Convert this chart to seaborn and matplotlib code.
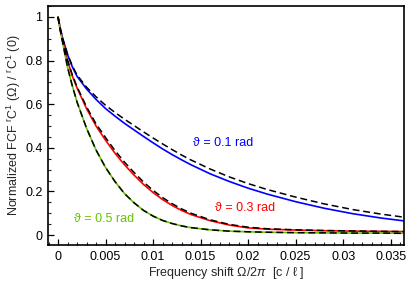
import matplotlib
matplotlib.use("Agg")
import matplotlib.pyplot as plt
from matplotlib.ticker import MultipleLocator
import seaborn as sns
import pandas as pd

# ---------------- data ----------------
x = [0, 0.00025, 0.0005, 0.001, 0.0015, 0.002, 0.003, 0.004, 0.005, 0.006, 0.007,
     0.008, 0.009, 0.010, 0.011, 0.012, 0.013, 0.014, 0.016, 0.018, 0.020, 0.022,
     0.025, 0.028, 0.031, 0.034, 0.0364]

blue = [1.0, 0.945, 0.90, 0.828, 0.772, 0.728, 0.67, 0.622, 0.58, 0.545, 0.512,
        0.482, 0.452, 0.423, 0.395, 0.369, 0.345, 0.322, 0.281, 0.246, 0.215, 0.188,
        0.153, 0.123, 0.098, 0.078, 0.065]
blue_approx = [1.0, 0.945, 0.90, 0.83, 0.776, 0.734, 0.678, 0.634, 0.595, 0.562, 0.531,
               0.502, 0.473, 0.445, 0.418, 0.392, 0.367, 0.344, 0.303, 0.267, 0.236, 0.209,
               0.174, 0.143, 0.117, 0.096, 0.082]

red = [1.0, 0.94, 0.89, 0.80, 0.73, 0.675, 0.58, 0.50, 0.435, 0.375, 0.322,
       0.275, 0.232, 0.195, 0.163, 0.136, 0.113, 0.094, 0.066, 0.046, 0.033, 0.027,
       0.023, 0.020, 0.018, 0.017, 0.016]
red_approx = [1.0, 0.94, 0.89, 0.802, 0.735, 0.68, 0.588, 0.51, 0.447, 0.387, 0.334,
              0.287, 0.243, 0.205, 0.172, 0.144, 0.12, 0.10, 0.07, 0.049, 0.036, 0.029,
              0.024, 0.021, 0.019, 0.017, 0.016]

green = [1.0, 0.935, 0.88, 0.77, 0.685, 0.61, 0.49, 0.39, 0.31, 0.245, 0.19,
         0.148, 0.113, 0.087, 0.067, 0.053, 0.042, 0.034, 0.024, 0.018, 0.015, 0.013,
         0.011, 0.010, 0.009, 0.009, 0.008]
green_approx = [1.0, 0.935, 0.88, 0.77, 0.685, 0.61, 0.49, 0.39, 0.31, 0.245, 0.19,
                0.148, 0.113, 0.087, 0.067, 0.053, 0.042, 0.034, 0.024, 0.018, 0.015, 0.013,
                0.011, 0.010, 0.009, 0.009, 0.008]

series_names = ["ϑ = 0.1 rad", "ϑ = 0.3 rad", "ϑ = 0.5 rad"]
series_colors = ["#0000ff", "#ff0000", "#66c400"]
xticks = [0, 0.005, 0.01, 0.015, 0.02, 0.025, 0.03, 0.035]
xticklabels = ["0", "0.005", "0.01", "0.015", "0.02", "0.025", "0.03", "0.035"]
yticks = [0, 0.2, 0.4, 0.6, 0.8, 1]
yticklabels = ["0", "0.2", "0.4", "0.6", "0.8", "1"]

# ---------------- build tables ----------------
solid_rows = []
dash_rows = []
for name, ys, ya in zip(series_names, [blue, red, green], [blue_approx, red_approx, green_approx]):
    for xi, yi, ai in zip(x, ys, ya):
        solid_rows.append({"x": xi, "y": yi, "series": name})
        dash_rows.append({"x": xi, "y": ai, "series": name})
df_s = pd.DataFrame(solid_rows)
df_d = pd.DataFrame(dash_rows)

# ---------------- plot ----------------
sns.set_style("ticks")
plt.rcParams["font.family"] = ["Liberation Sans", "DejaVu Sans"]
plt.rcParams["mathtext.fontset"] = "custom"
plt.rcParams["mathtext.rm"] = "Liberation Sans"
plt.rcParams["mathtext.it"] = "Liberation Sans:italic"

fig = plt.figure(figsize=(4.07, 2.87), dpi=100)
ax = fig.add_axes([0.118, 0.146, 0.875, 0.833])

sns.lineplot(data=df_s, x="x", y="y", hue="series", palette=series_colors,
             hue_order=series_names, estimator=None, sort=False, lw=1.2,
             legend=False, ax=ax)
sns.lineplot(data=df_d, x="x", y="y", units="series", color="black",
             estimator=None, sort=False, lw=1.1, legend=False, ax=ax,
             dashes=False, linestyle=(0, (4.5, 2.5)))

ax.set_xlim(-0.00105, 0.03642)
ax.set_ylim(-0.046, 1.05)
ax.set_xticks(xticks)
ax.set_xticklabels(xticklabels)
ax.set_yticks(yticks)
ax.set_yticklabels(yticklabels)
ax.xaxis.set_minor_locator(MultipleLocator(0.001))
ax.yaxis.set_minor_locator(MultipleLocator(0.05))
ax.tick_params(which="major", direction="in", length=4, width=0.9, labelsize=9,
               pad=4, colors="black")
ax.tick_params(which="minor", direction="in", length=2, width=0.8)
for sp in ax.spines.values():
    sp.set_linewidth(1.2)
    sp.set_color("black")

ax.set_xlabel(r"Frequency shift $\Omega$/2$\pi$  [c / ℓ ]", fontsize=9, labelpad=2)
ax.set_ylabel(r"Normalized FCF $^{\mathrm{r}}$C$^{1}$ ($\Omega$) / $^{\mathrm{r}}$C$^{1}$ (0)",
              fontsize=9, labelpad=1.5)

label_pos = [(0.01737, 0.422), (0.0197, 0.124), (0.00484, 0.073)]
for name, c, (lx, ly) in zip(series_names, series_colors, label_pos):
    ax.text(lx, ly, name, color=c, fontsize=9, ha="center", va="center")

fig.savefig("out.png", dpi=100)
